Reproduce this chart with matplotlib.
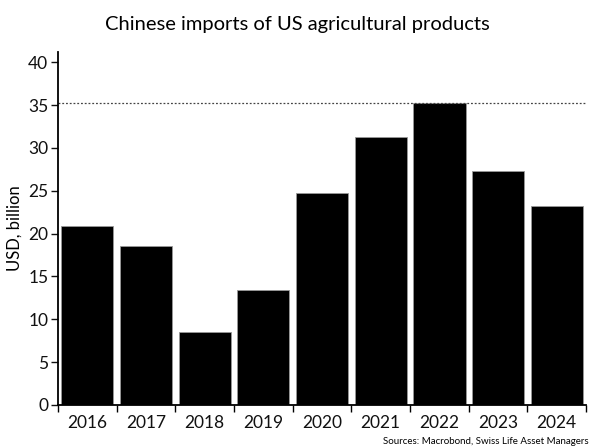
import matplotlib
matplotlib.use("Agg")
import matplotlib.pyplot as plt
import numpy as np

years = ["2016", "2017", "2018", "2019", "2020", "2021", "2022", "2023", "2024"]
values = [20.9, 18.6, 8.5, 13.4, 24.7, 31.3, 35.3, 27.3, 23.2]
yticks = [0, 5, 10, 15, 20, 25, 30, 35, 40]

plt.rcParams['font.family'] = ['Lato', 'DejaVu Sans']

fig = plt.figure(figsize=(5.95, 4.48), dpi=100)
ax = fig.add_axes([0.0975, 0.096, 0.8875, 0.788])

x = np.arange(len(years))
ax.bar(x, values, width=0.89, color='black', edgecolor='#999999', linewidth=0.6)
ax.axhline(max(values), color='#444444', linestyle=(0, (1.5, 1.5)), linewidth=0.9)

ax.set_xlim(-0.5, len(years) - 0.5)
ax.set_ylim(0, 41.2)
ax.set_yticks(yticks)
ax.set_yticklabels([str(t) for t in yticks])
ax.set_xticks(x)
ax.set_xticklabels(years)
ax.set_xticks(np.arange(-0.5, len(years)), minor=True)
ax.tick_params(axis='x', which='major', length=0, labelsize=12.5, pad=7, colors='#111111')
ax.tick_params(axis='x', which='minor', length=5, width=1, direction='out')
ax.tick_params(axis='y', length=5, width=1, labelsize=12.5, colors='#111111', pad=2)
ax.spines['top'].set_visible(False)
ax.spines['right'].set_visible(False)
for s in ['left', 'bottom']:
    ax.spines[s].set_linewidth(1.3)
ax.set_ylabel("USD, billion", fontsize=12, labelpad=4)

fig.text(0.5, 0.945, "Chinese imports of US agricultural products", ha='center', va='center', fontsize=14.5)
fig.text(0.99, 0.004, "Sources: Macrobond, Swiss Life Asset Managers", ha='right', va='bottom', fontsize=7)

fig.savefig("out.png", dpi=100)
